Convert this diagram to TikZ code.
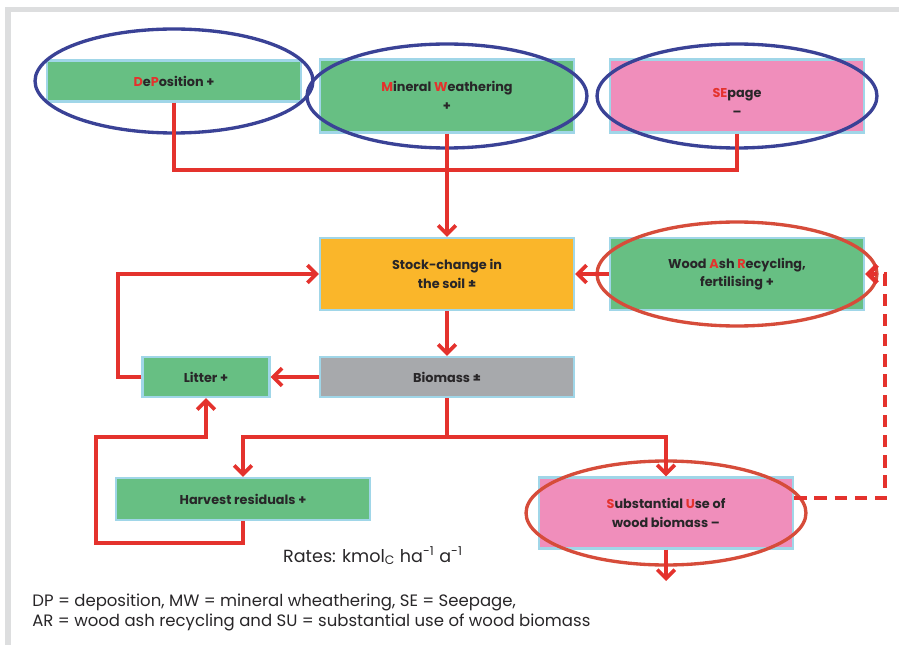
\documentclass[tikz,border=0pt]{standalone}
\usepackage{fontspec}
\setmainfont{Poppins}
\usepackage{xcolor}
\usetikzlibrary{arrows.meta}
\definecolor{boxgreen}{RGB}{103,191,131}
\definecolor{boxpink}{RGB}{240,142,187}
\definecolor{boxorange}{RGB}{250,182,42}
\definecolor{boxgray}{RGB}{167,169,172}
\definecolor{edgeblue}{RGB}{160,214,232}
\definecolor{flowred}{RGB}{228,50,45}
\definecolor{ringred}{RGB}{214,76,58}
\definecolor{ringblue}{RGB}{58,66,150}
\definecolor{labelgray}{RGB}{40,38,40}
\definecolor{framegray}{RGB}{221,222,223}
\newcommand{\hl}[1]{\textcolor{flowred}{#1}}

\begin{document}
\begin{tikzpicture}[x=0.02cm, y=-0.02cm,
	boxtext/.style={align=center, text=labelgray, font=\fontsize{7.3}{10.5}\selectfont\bfseries},
	box/.style={boxtext, draw=edgeblue, line width=1.4pt, inner sep=0pt, minimum width=5.08cm},
	flow/.style={draw=flowred, line width=2.1pt, -{Straight Barb[length=5pt,width=10pt]}},
	link/.style={draw=flowred, line width=2.1pt},
	bluering/.style={draw=ringblue, line width=1.9pt},
	redring/.style={draw=ringred, line width=1.9pt}] % pixel grid, y down

	\useasboundingbox (0,0) rectangle (899,645);
	\fill[framegray] (5,7) rectangle (899,12);
	\fill[framegray] (5,7) rectangle (11,645);

	% sources
	\node[box, fill=boxgreen, minimum height=0.82cm] (dp) at (174,81) {\hl{D}e\hl{P}osition +};
	\node[box, fill=boxgreen, minimum height=1.46cm] (mw) at (447,96) {\hl{M}ineral \hl{W}eathering\\+};
	\node[box, fill=boxpink, minimum height=1.46cm,
		label={[boxtext, yshift=-0.13cm]center:\hl{SE}page\\--}] (se) at (737,96) {};
	\draw[bluering] (dp.center) ellipse [x radius=2.78cm, y radius=1.04cm];
	\draw[bluering] (mw.center) ellipse [x radius=2.8cm, y radius=1.04cm];
	\draw[bluering] (se.center) ellipse [x radius=2.8cm, y radius=1.04cm];

	% soil and biomass
	\node[box, fill=boxorange, minimum height=1.44cm] (stock) at (447,274) {Stock-change in\\the soil ±};
	\node[box, fill=boxgreen, minimum height=1.44cm] (war) at (737,274) {Wood \hl{A}sh \hl{R}ecycling,\\fertilising +};
	\draw[redring] (war.center) ellipse [x radius=2.8cm, y radius=1.04cm];
	\node[box, fill=boxgray, minimum height=0.8cm] (bio) at (447,377) {Biomass ±};
	\node[box, fill=boxgreen, minimum height=0.8cm, minimum width=2.54cm] (litter) at (206,377) {Litter +};
	\node[box, fill=boxgreen, minimum height=0.84cm] (harv) at (243,499) {Harvest residuals +};
	\node[box, fill=boxpink, minimum height=1.42cm] (su) at (666,513) {\hl{S}ubstantial \hl{U}se of\\wood biomass --};
	\draw[redring] (su.center) ellipse [x radius=2.8cm, y radius=1.04cm];

	\coordinate (join) at (447,170);
	\coordinate (split) at (447,437);
	\coordinate (hloop) at (96,543);
	\coordinate (hturn) at (206,437);
	\coordinate (dashcorner) at (885,498);
	\coordinate (out) at (666,581);

	\draw[link] (dp.south) |- (join);
	\draw[link] (se.south) |- (join);
	\draw[flow] (mw.south) -- (stock.north);
	\draw[flow] (war.west) -- (stock.east);
	\draw[flow] (stock.south) -- (bio.north);
	\draw[flow] (bio.west) -- (litter.east);
	\draw[flow] (litter.west) -- ++(-23,0) |- (stock.west);
	\draw[link] (bio.south) -- (split);
	\draw[flow] (split) -| (harv.north);
	\draw[flow] (split) -| (su.north);
	\draw[flow] (harv.south) |- (hloop) |- (hturn) -- (litter.south);
	\draw[flow] (su.south) -- (out);
	\draw[flow, line width=2.6pt, dash pattern=on 7pt off 4.5pt] (dashcorner -| su.east) -- (dashcorner) |- (war.east);

	% notes
	\node[text=labelgray, font=\fontsize{10}{12}\selectfont] (rates) at (373,556)
		{Rates: kmol\textsubscript{C} ha\textsuperscript{-1} a\textsuperscript{-1}};
	\node[text=labelgray, font=\fontsize{9.4}{11.3}\selectfont, align=left, anchor=north west, inner sep=0pt] (legend) at (32,594)
		{DP = deposition, MW = mineral wheathering, SE = Seepage,\\AR = wood ash recycling and SU = substantial use of wood biomass};
\end{tikzpicture}
\end{document}
